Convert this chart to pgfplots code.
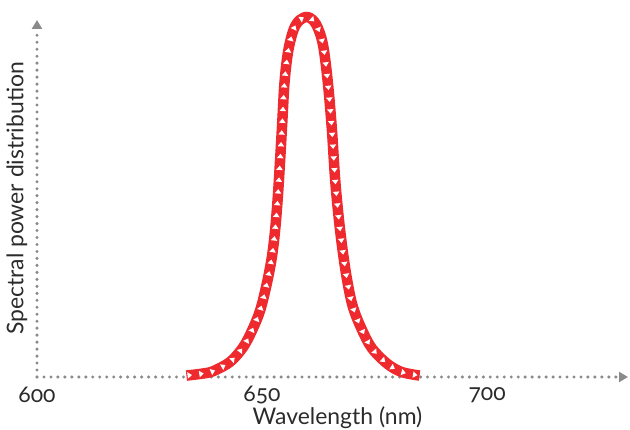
\documentclass[border=0pt]{standalone}
\usepackage{pgfplots}
\pgfplotsset{compat=1.18}
\usepackage{fontspec}
\setmainfont{Lato}[Numbers=OldStyle]
\usetikzlibrary{arrows.meta,decorations.markings}

\definecolor{specred}{HTML}{EE2A2F}
\definecolor{axisgray}{HTML}{8A8A8A}
\definecolor{txt}{HTML}{2B2B2B}

% white triangle pointing along the path, drawn in canvas units
\newcommand\flowtri{%
  \pgfsetfillcolor{white}%
  \pgfpathmoveto{\pgfqpoint{2.3bp}{0bp}}%
  \pgfpathlineto{\pgfqpoint{-2.1bp}{3.3bp}}%
  \pgfpathlineto{\pgfqpoint{-2.1bp}{-3.3bp}}%
  \pgfpathclose
  \pgfusepath{fill}}

\begin{document}
\begin{tikzpicture}
  \useasboundingbox (0,0) rectangle (630bp,430bp);
  \begin{axis}[
      at={(37bp,53bp)}, anchor=south west,
      scale only axis,
      width=591bp, height=357bp,
      xmin=600, xmax=731.3,
      ymin=0, ymax=0.992,
      axis lines=left,
      axis line style={axisgray, line width=3.4pt, line cap=round,
        dash pattern=on 0pt off 7pt,
        -{Triangle[length=9pt,width=10pt]}},
      xtick={600,650,700},
      ytick=\empty,
      major tick length=0pt,
      /pgf/number format/assume math mode=true,
      /pgf/number format/1000 sep={},
      tick label style={font=\fontsize{23}{23}\selectfont, text=txt},
      xticklabel style={anchor=center, yshift=-18bp},
      xlabel={Wavelength (nm)},
      ylabel={Spectral power distribution},
      label style={font=\fontsize{23}{23}\selectfont, text=txt},
      xlabel style={at={(axis description cs:0.5,0)}, anchor=center, yshift=-41bp, xshift=5bp},
      ylabel style={at={(axis description cs:0,0.5)}, anchor=center, yshift=20bp},
      clip=false,
    ]
    \addplot[specred, line width=10.5bp, smooth, tension=0.55,
      decoration={markings,
        mark=between positions 0.004 and 0.996 step 11.8bp with {\flowtri}},
      postaction={decorate}]
      coordinates {
        (633.2,0.004) (636.5,0.009) (639.1,0.016) (642.9,0.042) (645.8,0.083)
        (647.8,0.130) (649.6,0.186) (651.1,0.262) (652.2,0.335) (652.9,0.408)
        (653.5,0.50) (654.0,0.600) (654.5,0.710) (655.0,0.820) (655.8,0.905)
        (657.0,0.965) (658.4,0.992) (660.2,1.0) (662.0,0.980) (663.5,0.925)
        (664.6,0.820) (665.5,0.690) (666.2,0.555) (666.9,0.458) (667.8,0.361)
        (668.9,0.269) (670.2,0.194) (672.2,0.131) (674.4,0.080) (677.8,0.037)
        (681.0,0.014) (685.0,0.004)
      };
  \end{axis}
\end{tikzpicture}
\end{document}
